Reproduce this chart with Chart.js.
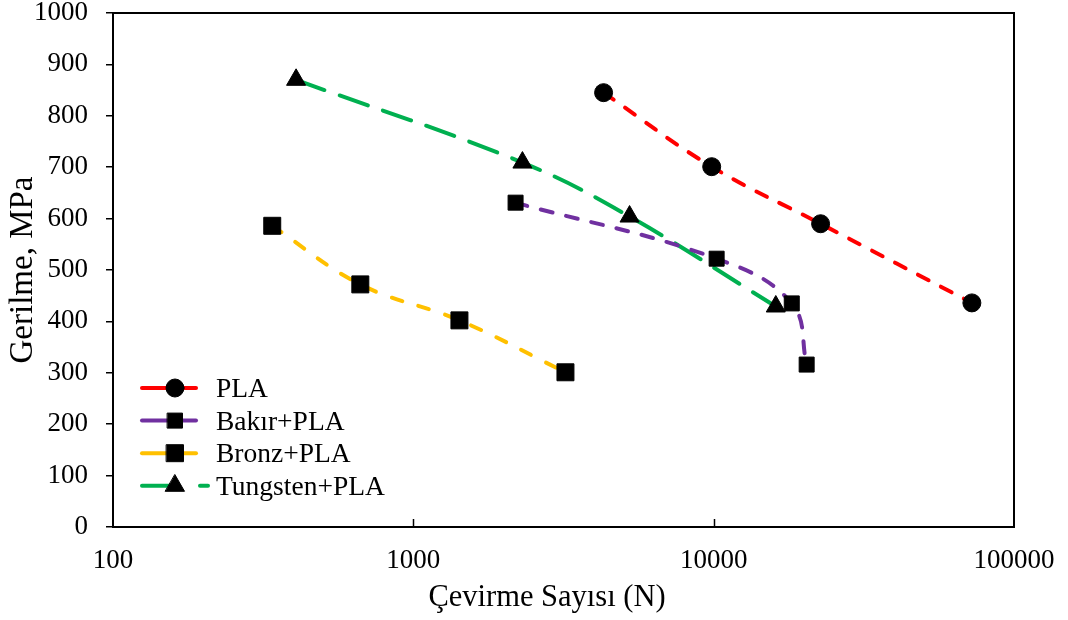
<!DOCTYPE html>
<html>
<head>
<meta charset="utf-8">
<script src="https://cdn.jsdelivr.net/npm/chart.js@4.4.0/dist/chart.umd.min.js"></script>
<style>
  html, body { margin: 0; padding: 0; background: #fff; }
  #wrap { width: 1068px; height: 620px; }
</style>
</head>
<body>
<div id="wrap"><canvas id="fatigue" width="1068" height="620"></canvas></div>
<script>
// ---------- Data ----------
const seriesNames = ['PLA', 'Bakır+PLA', 'Bronz+PLA', 'Tungsten+PLA'];
const plaX = [4300, 9850, 22700, 72400];
const plaY = [845, 701, 590, 436];
const bakirX = [2190, 10230, 18200, 20400];
const bakirY = [631, 522, 435, 316];
const bronzX = [339, 666, 1424, 3210];
const bronzY = [586, 472, 402, 301];
const tungX = [407, 2308, 5248, 16100];
const tungY = [870, 709, 604, 429];
const xTicks = [100, 1000, 10000, 100000];
const yMin = 0, yMax = 1000, yStep = 100;
const xTitle = 'Çevirme Sayısı (N)';
const yTitle = 'Gerilme, MPa';

const FONT = '"Liberation Serif", "Times New Roman", serif';
const pts = (xs, ys) => xs.map((x, i) => ({ x, y: ys[i] }));

// ---------- Plugins ----------
const frame = {
  id: 'frame',
  afterDraw(chart) {
    const { ctx, chartArea: a, scales } = chart;
    ctx.save();
    ctx.strokeStyle = '#000';
    ctx.lineWidth = 2;
    ctx.strokeRect(a.left, a.top, a.right - a.left, a.bottom - a.top);
    // inward ticks on the log axis
    ctx.lineWidth = 1.5;
    xTicks.slice(1, -1).forEach((v) => {
      const px = Math.round(scales.x.getPixelForValue(v)) + 0.5;
      ctx.beginPath();
      ctx.moveTo(px, a.bottom);
      ctx.lineTo(px, a.bottom - 8);
      ctx.stroke();
    });
    // x axis title sits a little left of centre in the original
    ctx.fillStyle = '#000';
    ctx.font = '30.5px ' + FONT;
    ctx.textAlign = 'center';
    ctx.textBaseline = 'alphabetic';
    ctx.fillText(xTitle, 547, 606);
    ctx.restore();
  },
};

// Excel-like legend: line sample + marker + label
const excelLegend = {
  id: 'excelLegend',
  afterDraw(chart) {
    const { ctx } = chart;
    const x0 = 142, mx = 175, tx = 216;
    const y0 = 388, dy = 32.6;
    ctx.save();
    chart.data.datasets.forEach((ds, i) => {
      const y = y0 + i * dy;
      ctx.strokeStyle = ds.borderColor;
      ctx.lineWidth = ds.borderWidth;
      ctx.lineCap = 'round';
      ctx.setLineDash(ds.legendDash);
      ctx.beginPath();
      ctx.moveTo(x0, y);
      ctx.lineTo(ds.legendEnd, y);
      ctx.stroke();
      ctx.setLineDash([]);
      ctx.fillStyle = '#000';
      ctx.strokeStyle = '#000';
      ctx.lineWidth = 1;
      Chart.helpers.drawPoint(ctx, {
        pointStyle: ds.pointStyle,
        radius: ds.pointRadius,
        borderWidth: 1,
      }, mx, y);
      ctx.font = '27.5px ' + FONT;
      ctx.textBaseline = 'alphabetic';
      ctx.fillText(ds.label, tx, y + 9);
    });
    ctx.restore();
  },
};

// ---------- Chart ----------
const ds = (label, data, color, dash, style, r, legendDash, legendEnd) => ({
  label,
  data,
  borderColor: color,
  borderWidth: 4,
  borderDash: dash,
  legendDash,
  legendEnd,
  borderCapStyle: 'round',
  tension: 0.4,
  fill: false,
  pointStyle: style,
  pointRadius: r,
  pointHoverRadius: r,
  pointBackgroundColor: '#000',
  pointBorderColor: '#000',
  pointBorderWidth: 1,
});

new Chart(document.getElementById('fatigue'), {
  type: 'line',
  data: {
    datasets: [
      ds(seriesNames[0], pts(plaX, plaY), '#FF0000', [12, 14], 'circle', 9, [], 196),
      ds(seriesNames[1], pts(bakirX, bakirY), '#7030A0', [12, 14], 'rect', 10.6, [], 196),
      ds(seriesNames[2], pts(bronzX, bronzY), '#FFC000', [11, 17], 'rect', 12, [], 196),
      ds(seriesNames[3], pts(tungX, tungY), '#00B050', [30, 16], 'triangle', 11, [30, 28, 8, 40], 209),
    ],
  },
  options: {
    responsive: false,
    animation: false,
    devicePixelRatio: 1,
    layout: { padding: { top: 12, right: 54, left: 0, bottom: 0 } },
    plugins: {
      legend: { display: false },
      tooltip: { enabled: false },
    },
    scales: {
      x: {
        type: 'logarithmic',
        min: 100,
        max: 100000,
        afterBuildTicks: (s) => { s.ticks = xTicks.map((v) => ({ value: v })); },
        afterFit: (s) => { s.height = 93; s.paddingLeft = 0; s.paddingRight = 0; },
        grid: { display: false },
        border: { display: true, color: '#000', width: 2 },
        ticks: {
          color: '#000',
          font: { family: FONT, size: 27 },
          padding: 10,
          maxRotation: 0,
          autoSkip: false,
          callback: (v) => String(v),
        },
        title: { display: false },
      },
      y: {
        min: yMin,
        max: yMax,
        afterFit: (s) => { s.width = 113; s.paddingTop = 0; s.paddingBottom = 0; },
        grid: { drawOnChartArea: false, drawTicks: true, tickLength: 7, color: '#000', lineWidth: 1.5 },
        border: { display: true, color: '#000', width: 2 },
        ticks: {
          stepSize: yStep,
          color: '#000',
          font: { family: FONT, size: 27 },
          padding: 18,
          callback: (v) => String(v),
        },
        title: {
          display: true,
          text: yTitle,
          color: '#000',
          font: { family: FONT, size: 33 },
          padding: { top: 4, bottom: 0 },
        },
      },
    },
  },
  plugins: [frame, excelLegend],
});
</script>
</body>
</html>
